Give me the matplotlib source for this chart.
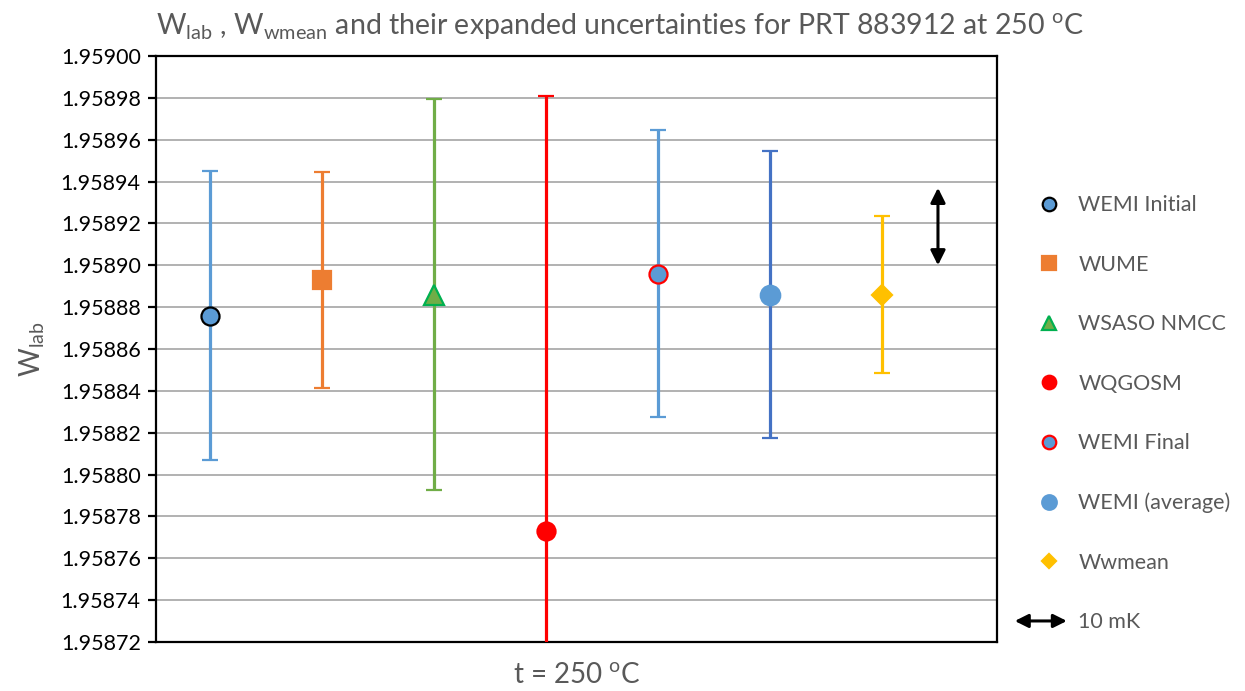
import matplotlib
matplotlib.use("Agg")
import matplotlib.pyplot as plt
from matplotlib.lines import Line2D
from matplotlib.patches import FancyArrowPatch
from matplotlib.legend_handler import HandlerBase

plt.rcParams['font.family'] = ['Lato', 'DejaVu Sans']

names = ["WEMI Initial", "WUME", "WSASO NMCC", "WQGOSM", "WEMI Final", "WEMI (average)", "Wwmean"]
xpos = [1, 2, 3, 4, 5, 6, 7]
values = [1.958876, 1.958893, 1.958886, 1.958773, 1.958896, 1.958886, 1.958886]
uncert = [0.0000690, 0.0000515, 0.0000935, 0.000208, 0.0000686, 0.0000686, 0.0000375]
markers = ["o", "s", "^", "o", "o", "o", "D"]
face = ["#5B9BD5", "#ED7D31", "#70AD47", "#FF0000", "#5B9BD5", "#5B9BD5", "#FFC000"]
edge = ["#000000", "#ED7D31", "#00B050", "#FF0000", "#FF0000", "#5B9BD5", "#FFC000"]
barcol = ["#5B9BD5", "#ED7D31", "#70AD47", "#FF0000", "#5B9BD5", "#4472C4", "#FFC000"]
msize = [13, 13, 14, 13, 13, 14, 10]

arrow_x = 7.5
arrow_lo, arrow_hi = 1.958900, 1.958937
arrow_label = "10 mK"

fig = plt.figure(figsize=(12.45, 6.91), dpi=100)
ax = fig.add_axes([0.1253, 0.0709, 0.8008 - 0.1253, 0.919 - 0.0709])

for x, v, u, m, fc, ec, bc, ms in zip(xpos, values, uncert, markers, face, edge, barcol, msize):
    ax.errorbar(x, v, yerr=u, fmt=m, ms=ms, mfc=fc, mec=ec, mew=1.6,
                ecolor=bc, elinewidth=2.3, capsize=6, capthick=2.3, zorder=3)

ax.annotate("", xy=(arrow_x, arrow_hi), xytext=(arrow_x, arrow_lo),
            arrowprops=dict(arrowstyle="<|-|>", color="black", lw=2.2,
                            mutation_scale=22, shrinkA=0, shrinkB=0), zorder=4)

ax.set_ylim(1.95872, 1.95900)
ax.set_xlim(0.518, 8.027)
yt = [1.95872 + 0.00002 * i for i in range(15)]
ax.set_yticks(yt)
ax.set_yticklabels([f"{t:.5f}" for t in yt])
ax.set_xticks([])
ax.grid(axis="y", color="#ABABAB", lw=1.3)
ax.set_axisbelow(True)
for s in ax.spines.values():
    s.set_color("black")
    s.set_linewidth(1.6)
ax.tick_params(axis="y", labelsize=15.5, length=6, width=1.6, colors="black", pad=5)

ax.set_ylabel("W$_{\\mathregular{lab}}$", fontsize=20, color="#595959", labelpad=10)
ax.set_xlabel("t = 250 $^{\\mathregular{o}}$C", fontsize=20, color="#595959", labelpad=15)

fig.text(620 / 1245, 1 - 27 / 691,
         "W$_{\\mathregular{lab}}$ , W$_{\\mathregular{wmean}}$ and their expanded uncertainties for PRT 883912 at 250 $^{\\mathregular{o}}$C",
         ha="center", va="center", fontsize=20.5, color="#595959")


class ArrowHandle:
    pass


class HandlerArrow(HandlerBase):
    def create_artists(self, legend, orig_handle, xdescent, ydescent, width, height, fontsize, trans):
        y = height / 2 - ydescent
        p = FancyArrowPatch((-xdescent - 19, y), (-xdescent + width + 7, y), arrowstyle="<|-|>",
                            mutation_scale=20, lw=2.2, color="black", transform=trans)
        return [p]


handles = [Line2D([], [], ls="none", marker=m, ms=ms * 0.75, mfc=fc, mec=ec, mew=1.6)
           for m, fc, ec, ms in zip(markers, face, edge, msize)]
handles.append(ArrowHandle())
labels = names + [arrow_label]
leg = fig.legend(handles, labels, loc="upper left", bbox_to_anchor=(1019 / 1245, 1 - 176 / 691),
                 frameon=False, fontsize=15.5, labelspacing=1.835, handlelength=1.0, handletextpad=0.85,
                 handler_map={ArrowHandle: HandlerArrow()})
for t in leg.get_texts():
    t.set_color("#595959")

fig.savefig("out.png", dpi=100)
